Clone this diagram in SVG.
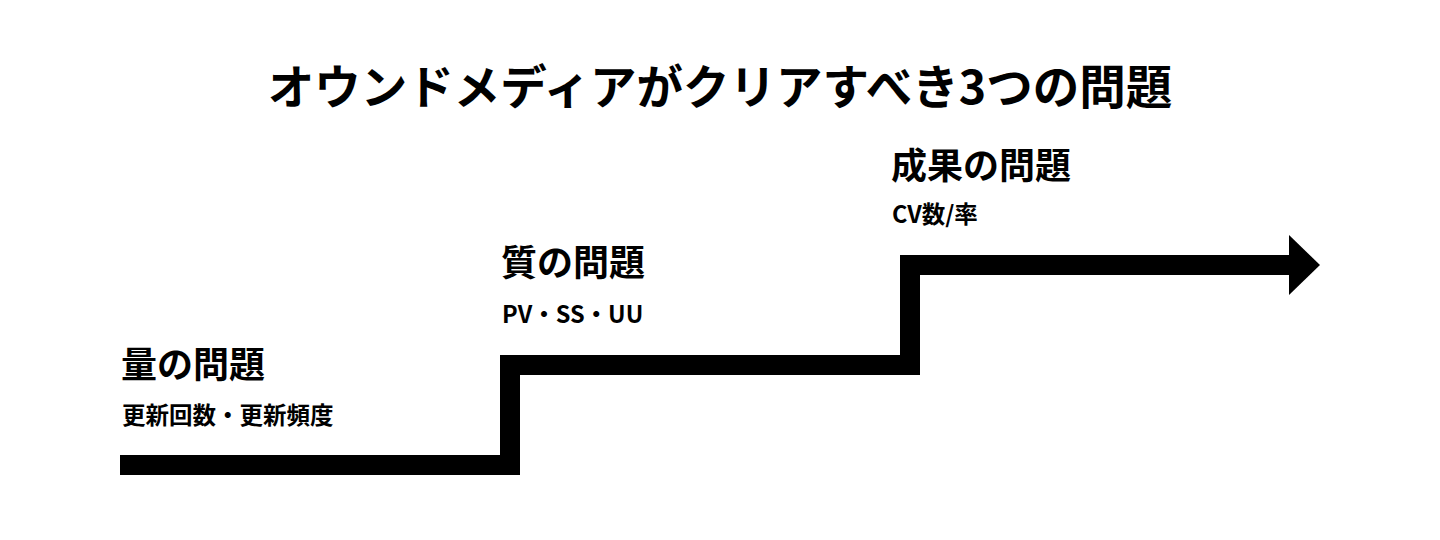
<svg xmlns="http://www.w3.org/2000/svg" width="1440" height="540" viewBox="0 0 1440 540">
<style>
text{font-family:"Noto Sans CJK JP","Noto Sans",sans-serif;font-weight:700;fill:#000}
.t{font-size:46.5px}
.h{font-size:36px}
.s{font-size:23.5px}
</style>
<rect width="1440" height="540" fill="#fff"/>
<g id="title"><text class="t" x="720" y="104" text-anchor="middle">オウンドメディアがクリアすべき3つの問題</text></g>
<g id="connectors">
<path d="M120 465 H510 V365 H910 V265 H1292" fill="none" stroke="#000" stroke-width="20" stroke-linejoin="miter"/>
<polygon points="1289,235 1320,265 1289,295" fill="#000"/>
</g>
<g id="step1">
<text class="h" x="121" y="378">量の問題</text>
<text class="s" x="122" y="424">更新回数・更新頻度</text>
</g>
<g id="step2">
<text class="h" x="501" y="276">質の問題</text>
<text class="s" x="502" y="323">PV・SS・UU</text>
</g>
<g id="step3">
<text class="h" x="891" y="179">成果の問題</text>
<text class="s" x="892" y="223">CV数/率</text>
</g>
</svg>
